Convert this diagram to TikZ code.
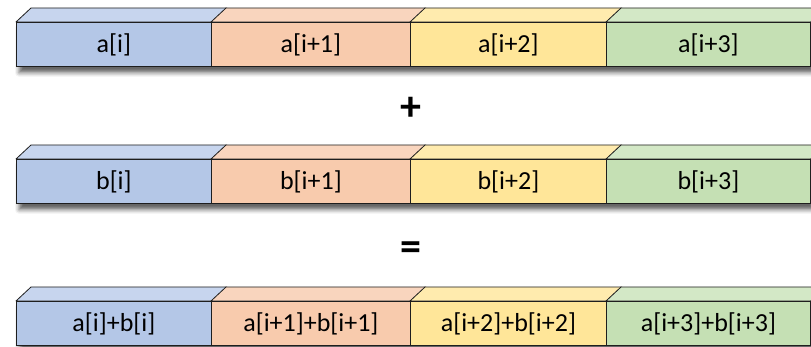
\documentclass[tikz,border=0pt]{standalone}
\usepackage{fontspec}
\setmainfont{Carlito}
\usetikzlibrary{calc, backgrounds, shadows.blur}
\definecolor{azul}{HTML}{B4C7E7}
\definecolor{azulclaro}{HTML}{C7D5EE}
\definecolor{naranja}{HTML}{F8CBAD}
\definecolor{naranjaclaro}{HTML}{F9D5BE}
\definecolor{amarillo}{HTML}{FFE699}
\definecolor{amarilloclaro}{HTML}{FFEBAE}
\definecolor{verde}{HTML}{C5E0B4}
\definecolor{verdeclaro}{HTML}{D3E8C6}
\definecolor{verdeoscuro}{HTML}{55624C}
\definecolor{borde}{HTML}{1E1E1E}

\begin{document}
\begin{tikzpicture}[
  x=1pt, y=-1pt,
  font=\fontsize{26}{30}\selectfont,
  celda/.style={rectangle, draw=borde, line width=0.8pt, minimum height=44pt,
                inner sep=0pt, anchor=north west},
  tapa/.style={draw=borde, line width=0.8pt, line join=round},
  signo/.style={font=\fontsize{42}{46}\selectfont\bfseries},
  sombra/.style={fill=white, blur shadow={shadow xshift=3pt, shadow yshift=-6pt,
                 shadow blur radius=4pt, shadow opacity=60}},
]
\useasboundingbox (0,0) rectangle (811,347);

% --- Filas de celdas: a, b y suma ---
\foreach \col/\xa/\w/\k/\cf/\ct in {1/16/195/i/azul/azulclaro,
                                    2/211/199/i+1/naranja/naranjaclaro,
                                    3/410/196/i+2/amarillo/amarilloclaro,
                                    4/606/204/i+3/verde/verdeclaro} {
  \node[celda, fill=\cf, minimum width=\w pt] (a\col) at (\xa,22)  {a[\k]};
  \node[celda, fill=\cf, minimum width=\w pt] (b\col) at (\xa,159) {b[\k]};
  \node[celda, fill=\cf, minimum width=\w pt] (c\col) at (\xa,301) {a[\k]+b[\k]};
  % --- Caras superiores ---
  \foreach \f in {a,b,c}
    \draw[tapa, fill=\ct] (\f\col.north west) -- ++(15,-14)
      -- ($(\f\col.north east)+(15,-14)$) -- (\f\col.north east) -- cycle;
}

% --- Cara lateral de la ultima celda ---
\foreach \f in {a,b,c}
  \draw[tapa, fill=verdeoscuro] (\f4.north east) -- ++(15,-14)
    -- ($(\f4.south east)+(15,-14)$) -- (\f4.south east) -- cycle;

% --- Signos ---
\node[signo] (mas) at (411,109) {+};
\node[signo] (igual) at (411,251) {=};

% --- Sombras ---
\begin{scope}[on background layer]
  \foreach \f in {a,b,c}
    \path[sombra] (\f1.north west) rectangle (\f4.south east);
\end{scope}

\end{tikzpicture}
\end{document}
